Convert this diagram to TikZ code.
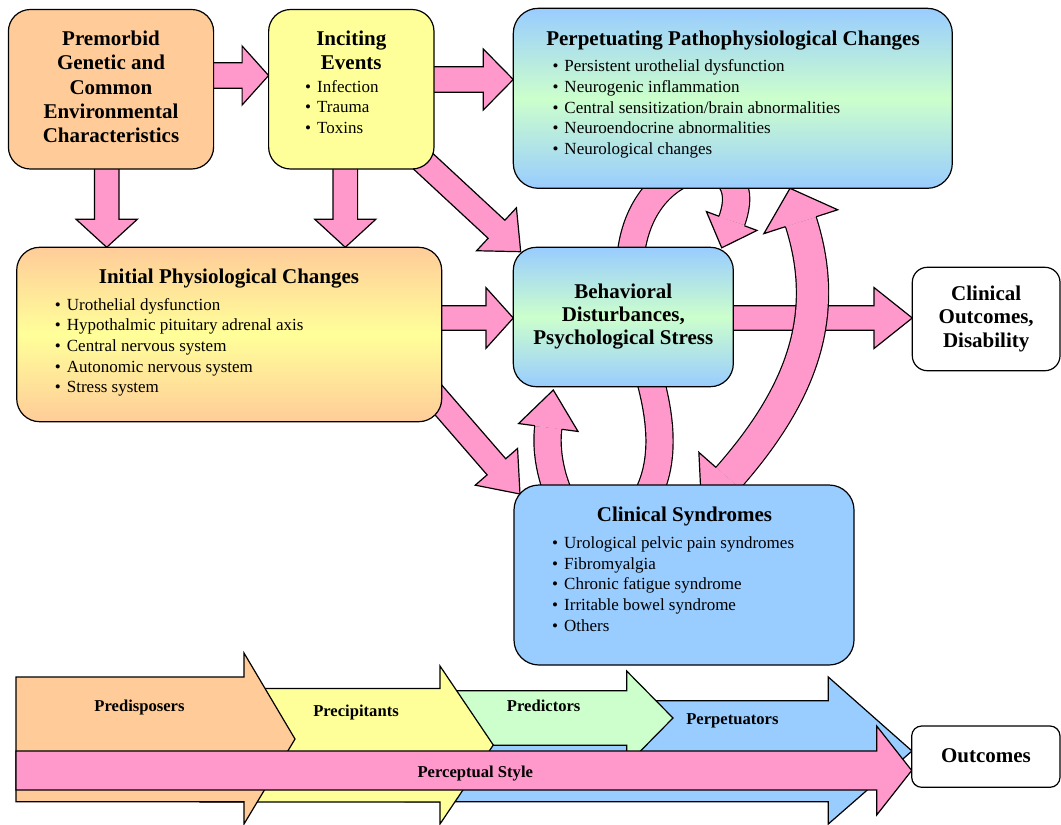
\documentclass[tikz,border=0pt]{standalone}
\usepackage{fontspec}
\setmainfont{Liberation Serif}
\usetikzlibrary{calc}

\definecolor{orangec}{HTML}{FFCC99}
\definecolor{yellowc}{HTML}{FFFF99}
\definecolor{greenc}{HTML}{CCFFCC}
\definecolor{bluec}{HTML}{99CCFF}
\definecolor{pinkc}{HTML}{FF99CC}

\pgfdeclarelayer{paper}
\pgfdeclarelayer{bg}
\pgfsetlayers{paper,bg,main}

% bullet with a fixed gap before the item text
\newcommand{\bul}{\makebox[12pt][l]{•}}

% straight block arrow: start, tip, half body width, half head width, head length
\newcommand{\blockarrow}[5]{%
  \coordinate (ba-s) at (#1);
  \coordinate (ba-t) at (#2);
  \coordinate (ba-b) at ($(ba-t)!#5!(ba-s)$);
  \filldraw[arrowbody] ($(ba-s)!#3!90:(ba-t)$) -- ($(ba-b)!#3!90:(ba-t)$)
    -- ($(ba-b)!#4!90:(ba-t)$) -- (ba-t) -- ($(ba-b)!#4!-90:(ba-t)$)
    -- ($(ba-b)!#3!-90:(ba-t)$) -- ($(ba-s)!#3!-90:(ba-t)$);
}

% head closing a curved band: base point, tip, half band width, half head width
\newcommand{\bandhead}[4]{%
  \filldraw[arrowbody] ($(#1)!#3!90:(#2)$) -- ($(#1)!#4!90:(#2)$) -- (#2)
    -- ($(#1)!#4!-90:(#2)$) -- ($(#1)!#3!-90:(#2)$);
}

\begin{document}
\begin{tikzpicture}[x=1pt, y=-1pt,
  box/.style={draw=black, line width=1.2pt, rounded corners=#1, inner sep=0pt,
              outer sep=0pt, anchor=north west},
  ttl/.style={font=\fontsize{21}{24}\selectfont\bfseries, anchor=base, inner sep=0pt},
  itm/.style={font=\fontsize{17}{20}\selectfont, anchor=base west, inner sep=0pt},
  lbl/.style={font=\fontsize{16.6}{19}\selectfont\bfseries, anchor=base, inner sep=0pt},
  arrowbody/.style={fill=pinkc, draw=black, line width=1.2pt, line join=miter, miter limit=20},
  band/.style={draw=black, line width=1.2pt, double=pinkc, double distance=#1},
  chevron/.style={draw=black, line width=1.2pt, line join=miter, miter limit=20},
]
\useasboundingbox (0,0) rectangle (1061,825);
\begin{pgfonlayer}{paper}
  \fill[white] (0,0) rectangle (1061,825);
\end{pgfonlayer}

% ---------- boxes ----------
\node[box=22pt, fill=orangec, minimum width=205.2pt, minimum height=159.5pt] (prem) at (8.4,9.5) {};
\node[box=22pt, fill=yellowc, minimum width=165.4pt, minimum height=159.5pt] (inc) at (268.6,9.5) {};
\node[box=25pt, top color=bluec, bottom color=bluec, middle color=greenc,
      minimum width=439pt, minimum height=180pt] (perp) at (513.3,8.3) {};
\node[box=23pt, top color=orangec, bottom color=orangec, middle color=yellowc,
      minimum width=425pt, minimum height=174.4pt] (init) at (16.7,247.3) {};
\node[box=23pt, top color=bluec, bottom color=bluec, middle color=greenc,
      minimum width=220pt, minimum height=139.4pt] (behav) at (513.3,247.3) {};
\node[box=15pt, fill=white, minimum width=147.7pt, minimum height=103.4pt] (clout) at (912.3,267.3) {};
\node[box=25pt, fill=bluec, minimum width=340pt, minimum height=180pt] (clsyn) at (514,485) {};

% ---------- connectors behind the boxes ----------
\begin{pgfonlayer}{bg}
  \blockarrow{$(prem.east)+(0,-13.75)$}{$(inc.west)+(0,-13.75)$}{12.8pt}{29.5pt}{26.5pt}
  \blockarrow{$(inc.east)+(0,-9.75)$}{$(perp.west)+(0,-18.8)$}{12.8pt}{30.5pt}{30pt}
  \blockarrow{$(prem.south)+(-4.3,0)$}{$(prem.south |- init.north)+(-4.3,0)$}{12.3pt}{30.6pt}{28pt}
  \blockarrow{$(inc.south)+(-6,0)$}{$(inc.south |- init.north)+(-6,0)$}{12.3pt}{30.5pt}{28pt}
  \blockarrow{$(inc.south east)+(-21.1,-17.3)$}{$(behav.north west)+(7.4,4.4)$}{12.3pt}{29.3pt}{33pt}
  \blockarrow{$(init.east)+(0,-16.5)$}{$(behav.west)+(0,1)$}{12.2pt}{30.3pt}{27.3pt}
  \blockarrow{$(init.south east)+(-20,-41)$}{$(clsyn.north west)+(6,9)$}{12.3pt}{28pt}{36pt}
  \blockarrow{$(behav.east)+(0,1)$}{$(clout.west)+(0,-1)$}{12.3pt}{30.5pt}{38.3pt}

  % loop between the behavioural box and the perpetuating changes
  \coordinate (ul-s) at ($(behav.north west)+(116.7,17.7)$);
  \coordinate (ul-b) at (731.7,221);
  \coordinate (ul-t) at ($(behav.north west)+(208.4,0.5)$);
  \draw[band=26pt] (ul-s) .. controls (635,150) and (761,141) .. (ul-b);
  \bandhead{ul-b}{ul-t}{13.6pt}{27pt}

  % loop between the behavioural box and the clinical syndromes
  \coordinate (ll-s) at ($(behav.south west)+(134.7,-14.7)$);
  \coordinate (ll-b) at (548.3,427.5);
  \coordinate (ll-t) at ($(behav.south west)+(40,3.3)$);
  \draw[band=26pt] (ll-s) .. controls (668,440) and (664,492) .. (620,530)
        .. controls (570,550) and (542.4,472.1) .. (ll-b);
  \bandhead{ll-b}{ll-t}{13.6pt}{30pt}

  % two-headed arc between clinical syndromes and perpetuating changes
  \coordinate (ar-b1) at (800.8,221.7);
  \coordinate (ar-t1) at ($(perp.south west)+(276.7,0)$);
  \coordinate (ar-b2) at (728,478);
  \coordinate (ar-t2) at (701.6,508);
  \draw[band=31pt] (ar-b1) .. controls (831.3,316.9) and (800.6,395.5) .. (ar-b2);
  \bandhead{ar-b1}{ar-t1}{16.1pt}{38.8pt}
  \bandhead{ar-b2}{ar-t2}{16.1pt}{38.8pt}

  % ---------- timeline of chevrons ----------
  \filldraw[chevron, fill=bluec] (405,700.7) -- (828.3,700.7) -- (828.3,677) -- (912,751)
     -- (828.3,824) -- (828.3,801.7) -- (405,801.7) -- cycle;
  \filldraw[chevron, fill=greenc] (420,690.7) -- (626.7,690.7) -- (626.7,671) -- (673,718)
     -- (626.7,765) -- (626.7,745.3) -- (420,745.3) -- cycle;
  \filldraw[chevron, fill=yellowc] (200,688.5) -- (440,688.5) -- (440,666) -- (493.3,745)
     -- (440,824) -- (440,802) -- (200,802) -- cycle;
  \filldraw[chevron, fill=orangec] (16,677) -- (244,677) -- (244,653) -- (295,739)
     -- (244,824) -- (244,801.7) -- (16,801.7) -- cycle;
  \filldraw[chevron, fill=pinkc] (16,751) -- (876.7,751) -- (876.7,726) -- (911.7,770.5)
     -- (876.7,815) -- (876.7,790) -- (16,790) -- cycle;
\end{pgfonlayer}

\node[box=10pt, fill=white, minimum width=148.3pt, minimum height=61.3pt] (outc) at (911.7,726) {};

% ---------- texts ----------
\node[ttl] (pm1) at (111,45.6) {Premorbid};
\node[ttl] (pm2) at (111,69.9) {Genetic and};
\node[ttl] (pm3) at (111,94.2) {Common};
\node[ttl] (pm4) at (111,118.5) {Environmental};
\node[ttl] (pm5) at (111,142.8) {Characteristics};

\node[ttl] (ie1) at (351.3,45.6) {Inciting};
\node[ttl] (ie2) at (351.3,69.9) {Events};
\node[itm] (ie3) at (305,92) {\bul Infection};
\node[itm] (ie4) at (305,112.6) {\bul Trauma};
\node[itm] (ie5) at (305,133.3) {\bul Toxins};

\node[ttl] (pp0) at (733,45) {Perpetuating Pathophysiological Changes};
\node[itm] (pp1) at (552.3,71.7) {\bul Persistent urothelial dysfunction};
\node[itm] (pp2) at (552.3,92.4) {\bul Neurogenic inflammation};
\node[itm] (pp3) at (552.3,113.1) {\bul Central sensitization/brain abnormalities};
\node[itm] (pp4) at (552.3,133.7) {\bul Neuroendocrine abnormalities};
\node[itm] (pp5) at (552.3,154.4) {\bul Neurological changes};

\node[ttl] (ip0) at (229,283.3) {Initial Physiological Changes};
\node[itm] (ip1) at (54.7,310) {\bul Urothelial dysfunction};
\node[itm] (ip2) at (54.7,330.7) {\bul Hypothalmic pituitary adrenal axis};
\node[itm] (ip3) at (54.7,351.4) {\bul Central nervous system};
\node[itm] (ip4) at (54.7,372.1) {\bul Autonomic nervous system};
\node[itm] (ip5) at (54.7,392.8) {\bul Stress system};

\node[ttl] (bd1) at (623.3,298.5) {Behavioral};
\node[ttl] (bd2) at (623.3,321.7) {Disturbances,};
\node[ttl] (bd3) at (623.3,344.5) {Psychological Stress};

\node[ttl] (co1) at (986.2,300) {Clinical};
\node[ttl] (co2) at (986.2,323.5) {Outcomes,};
\node[ttl] (co3) at (986.2,347) {Disability};

\node[ttl] (cs0) at (684.5,521.7) {Clinical Syndromes};
\node[itm] (cs1) at (552,548.3) {\bul Urological pelvic pain syndromes};
\node[itm] (cs2) at (552,569) {\bul Fibromyalgia};
\node[itm] (cs3) at (552,589.6) {\bul Chronic fatigue syndrome};
\node[itm] (cs4) at (552,610.3) {\bul Irritable bowel syndrome};
\node[itm] (cs5) at (552,631) {\bul Others};

\node[ttl] (oc) at (986,762.5) {Outcomes};

\node[lbl] (l1) at (139.5,711.6) {Predisposers};
\node[lbl] (l2) at (356,716) {Precipitants};
\node[lbl] (l3) at (543.7,711.7) {Predictors};
\node[lbl] (l4) at (732.4,724.5) {Perpetuators};
\node[lbl] (l5) at (475.3,777.7) {Perceptual Style};
\end{tikzpicture}
\end{document}
